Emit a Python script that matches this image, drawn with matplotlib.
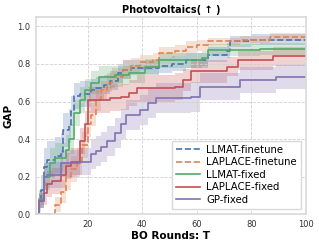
import matplotlib
matplotlib.use("Agg")
import matplotlib.pyplot as plt
import numpy as np

# BO round breakpoints and mean GAP values
blue_x = [1, 2, 3, 4, 5, 8, 10, 11, 13, 14, 15, 17, 19, 21, 23, 26, 28, 31, 33, 36, 46, 51, 56, 64, 71, 72, 80, 100]
blue_y = [0, 0.06, 0.13, 0.25, 0.29, 0.31, 0.33, 0.45, 0.47, 0.55, 0.63, 0.64, 0.64, 0.66, 0.67, 0.69, 0.71, 0.75, 0.77, 0.78, 0.79, 0.80, 0.82, 0.85, 0.87, 0.92, 0.93, 0.94]
blue_sd = [0, 0.05, 0.08, 0.1, 0.1, 0.1, 0.1, 0.09, 0.09, 0.08, 0.07, 0.07, 0.07, 0.06, 0.06, 0.05, 0.05, 0.05, 0.05, 0.04, 0.04, 0.04, 0.04, 0.04, 0.04, 0.03, 0.03, 0.03]

orange_x = [1, 7, 8, 10, 12, 14, 16, 18, 20, 21, 23, 25, 27, 29, 33, 36, 39, 44, 46, 52, 56, 60, 64, 76, 87, 100]
orange_y = [0, 0, 0.05, 0.12, 0.2, 0.24, 0.28, 0.37, 0.48, 0.53, 0.61, 0.66, 0.70, 0.73, 0.77, 0.79, 0.81, 0.82, 0.86, 0.87, 0.89, 0.90, 0.92, 0.93, 0.945, 0.95]
orange_sd = [0, 0, 0.04, 0.06, 0.07, 0.07, 0.07, 0.07, 0.07, 0.06, 0.06, 0.05, 0.05, 0.05, 0.05, 0.04, 0.04, 0.04, 0.03, 0.03, 0.03, 0.03, 0.02, 0.02, 0.02, 0.02]

green_x = [1, 2, 4, 6, 8, 12, 13, 15, 17, 19, 21, 24, 30, 35, 41, 46, 62, 64, 83, 100]
green_y = [0, 0.08, 0.2, 0.27, 0.30, 0.34, 0.40, 0.54, 0.61, 0.66, 0.70, 0.73, 0.74, 0.75, 0.785, 0.82, 0.83, 0.875, 0.88, 0.89]
green_sd = [0, 0.05, 0.07, 0.08, 0.08, 0.08, 0.08, 0.07, 0.07, 0.06, 0.06, 0.06, 0.05, 0.05, 0.04, 0.04, 0.04, 0.03, 0.03, 0.03]

red_x = [1, 2, 4, 5, 7, 10, 12, 14, 17, 19, 20, 28, 32, 35, 38, 52, 55, 58, 71, 75, 88, 100]
red_y = [0, 0.07, 0.11, 0.16, 0.175, 0.21, 0.255, 0.28, 0.39, 0.48, 0.61, 0.62, 0.625, 0.645, 0.67, 0.68, 0.715, 0.76, 0.785, 0.82, 0.84, 0.85]
red_sd = [0, 0.04, 0.06, 0.07, 0.07, 0.07, 0.07, 0.07, 0.07, 0.07, 0.07, 0.07, 0.07, 0.07, 0.07, 0.07, 0.06, 0.06, 0.05, 0.05, 0.05, 0.05]

purple_x = [1, 2, 4, 5, 10, 17, 20, 21, 23, 25, 27, 30, 32, 34, 39, 42, 45, 58, 61, 76, 89, 100]
purple_y = [0, 0.07, 0.2, 0.21, 0.27, 0.28, 0.28, 0.32, 0.335, 0.36, 0.39, 0.43, 0.48, 0.53, 0.555, 0.59, 0.62, 0.625, 0.68, 0.715, 0.73, 0.74]
purple_sd = [0, 0.04, 0.07, 0.07, 0.07, 0.07, 0.07, 0.08, 0.08, 0.08, 0.08, 0.08, 0.08, 0.08, 0.08, 0.08, 0.08, 0.08, 0.07, 0.07, 0.065, 0.065]

series = [
    ("LLMAT-finetune", blue_x, blue_y, blue_sd, "#4C72B0", "--"),
    ("LAPLACE-finetune", orange_x, orange_y, orange_sd, "#DD8452", "--"),
    ("LLMAT-fixed", green_x, green_y, green_sd, "#55A868", "-"),
    ("LAPLACE-fixed", red_x, red_y, red_sd, "#C44E52", "-"),
    ("GP-fixed", purple_x, purple_y, purple_sd, "#8172B3", "-"),
]

fig = plt.figure(figsize=(3.19, 2.48), dpi=100)
ax = fig.add_axes([0.113, 0.137, 0.846, 0.794])

for label, x, y, sd, col, ls in series:
    x = np.array(x)
    y = np.array(y)
    sd = np.array(sd)
    ax.fill_between(x, np.clip(y - sd, 0, None), y + sd, step="post",
                    color=col, alpha=0.25, linewidth=0)
    ax.plot(x, y, drawstyle="steps-post", color=col, ls=ls, lw=1.2, label=label)

ax.set_xlim(1, 100)
ax.set_ylim(0, 1.05)
ax.set_xticks([20, 40, 60, 80, 100])
ax.set_yticks([0.0, 0.2, 0.4, 0.6, 0.8, 1.0])
ax.tick_params(labelsize=6, length=0, pad=4, labelcolor="#333333")
ax.grid(True, ls="--", color="#d0d0d0", lw=0.6)
for s in ax.spines.values():
    s.set_color("#d9d9d9")
    s.set_linewidth(1.2)

ax.set_title("Photovoltaics( ↑ )", fontsize=7, fontweight="bold", pad=3)
ax.set_xlabel("BO Rounds: T", fontsize=7.5, fontweight="bold", labelpad=2)
ax.set_ylabel("GAP", fontsize=7.5, fontweight="bold", labelpad=3)

leg = ax.legend(loc="lower right", fontsize=7.3, handlelength=2.4, labelspacing=0.25,
                borderpad=0.4, handletextpad=0.6, framealpha=1, edgecolor="#d9d9d9",
                fancybox=False)

fig.savefig("out.png", dpi=100)
